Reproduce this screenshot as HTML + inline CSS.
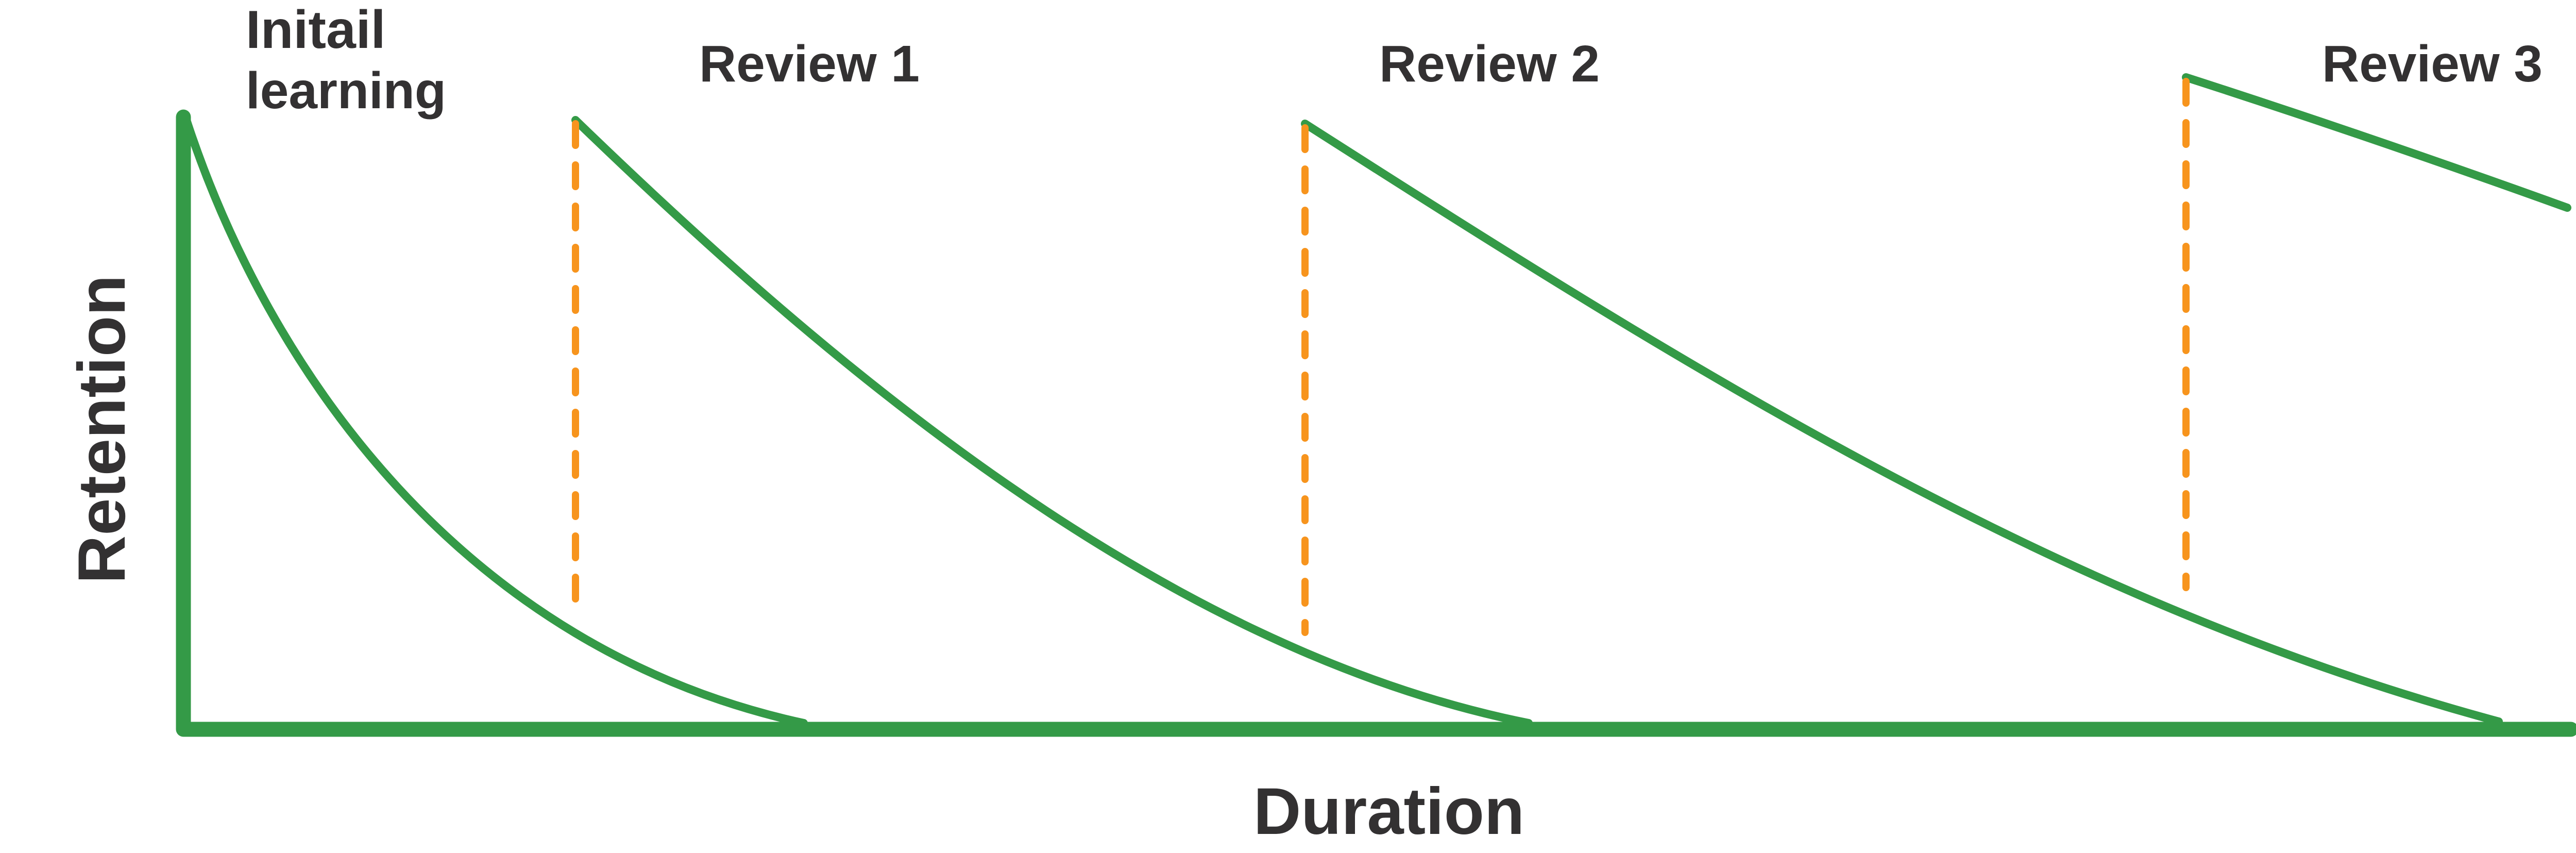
<!DOCTYPE html>
<html><head><meta charset="utf-8"><style>
html,body{margin:0;padding:0;background:#fff;}
svg{display:block;}
text{font-family:"Liberation Sans",sans-serif;font-weight:bold;fill:#333132;}
</style></head><body>
<svg width="5226" height="1655" viewBox="0 0 5226 1655" xmlns="http://www.w3.org/2000/svg">
<g fill="none" stroke-linecap="round">
<path d="M356,227 L356,1415 L4990,1415" stroke="#349a47" stroke-width="29" stroke-linejoin="round"/>
<path d="M360,227 C 520,720 900,1260 1560,1403" stroke="#349a47" stroke-width="16"/>
<path d="M1117,233 C 1600,700 2250,1260 2967,1403" stroke="#349a47" stroke-width="16"/>
<path d="M2533,240 C 3300,730 4000,1170 4850,1400" stroke="#349a47" stroke-width="16"/>
<path d="M4243,150 Q 4600,265 4983,403" stroke="#349a47" stroke-width="16"/>
<g stroke="#f7941d" stroke-width="14" stroke-dasharray="42 38">
<line x1="1117" y1="240" x2="1117" y2="1190"/>
<line x1="2533" y1="248" x2="2533" y2="1227"/>
<line x1="4243" y1="158" x2="4243" y2="1140"/>
</g>
</g>
<text x="477" y="93" font-size="104">Initail</text>
<text x="477" y="210" font-size="100">learning</text>
<text x="1357" y="158" font-size="100">Review 1</text>
<text x="2677" y="158" font-size="100">Review 2</text>
<text x="4507" y="158" font-size="100">Review 3</text>
<text x="2696" y="1618" font-size="128" text-anchor="middle">Duration</text>
<text transform="translate(242,833) rotate(-90)" font-size="130" text-anchor="middle">Retention</text>
</svg>
</body></html>
